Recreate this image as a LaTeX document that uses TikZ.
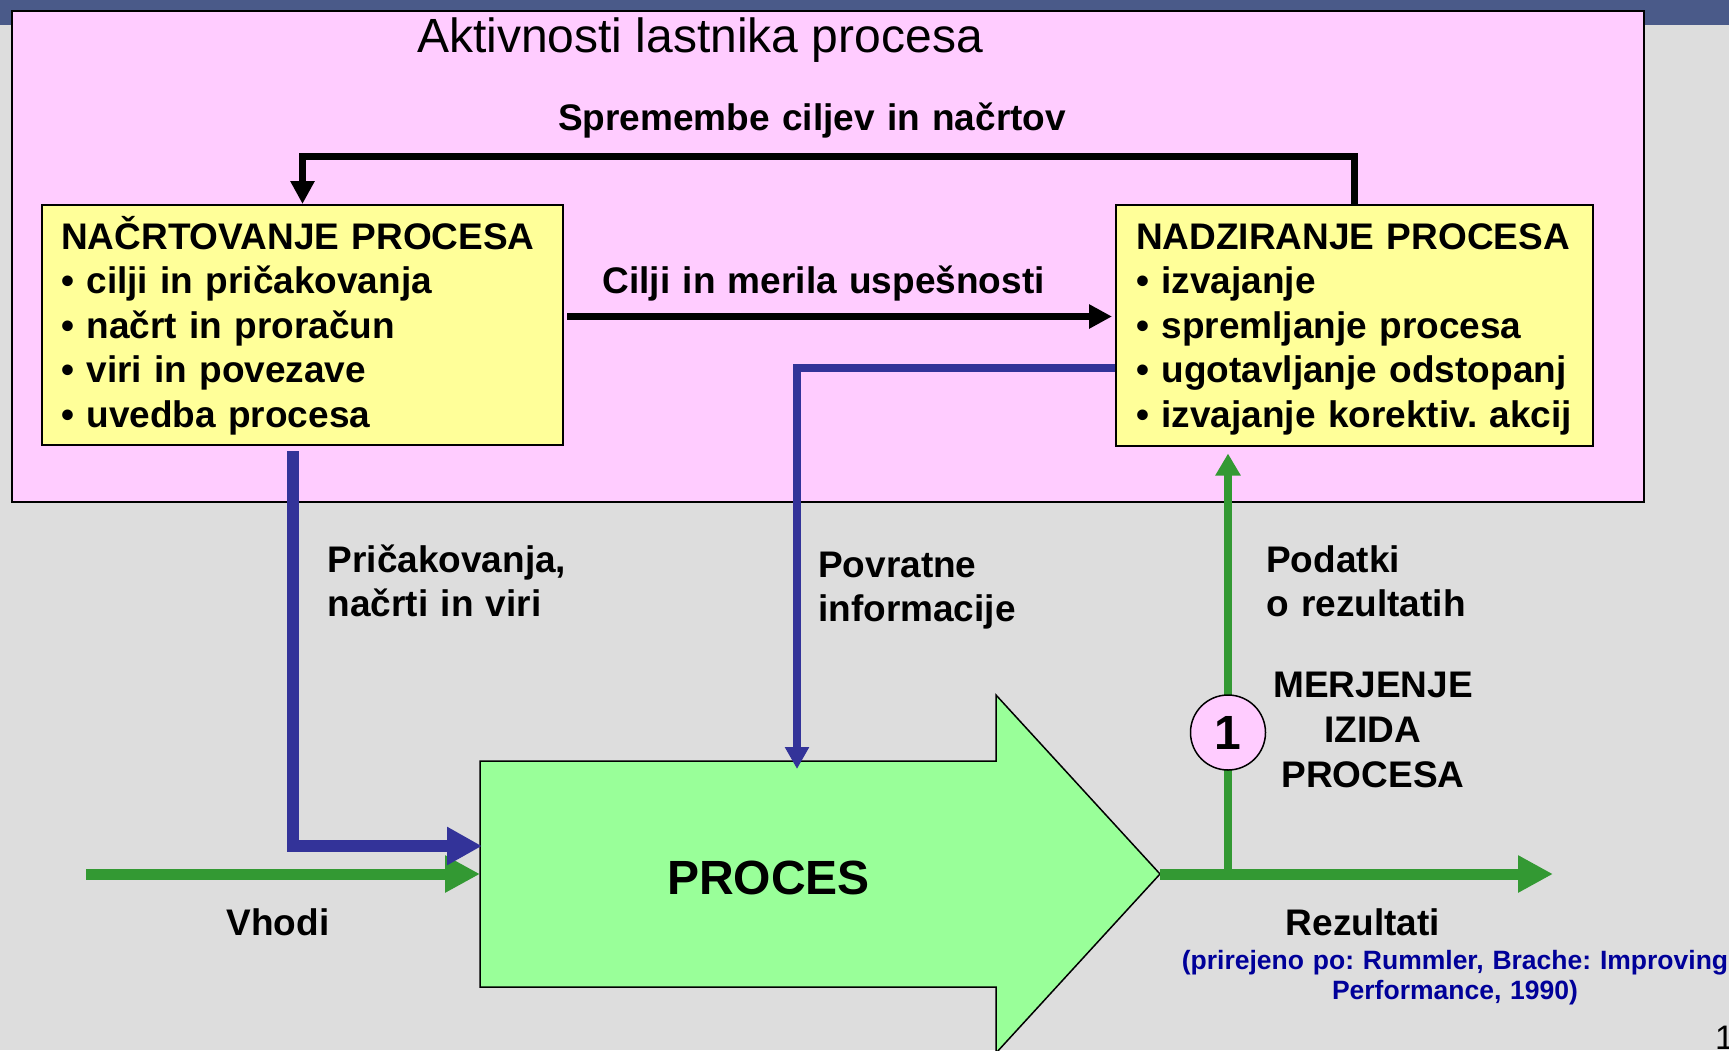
\documentclass[tikz,border=0pt]{standalone}
\usepackage{fontspec}
\setmainfont{Liberation Sans}
\usetikzlibrary{arrows.meta}
\frenchspacing

\definecolor{bgGrey}{HTML}{DDDDDD}
\definecolor{barBlue}{HTML}{4A5A89}
\definecolor{ownerPink}{HTML}{FFCCFF}
\definecolor{boxYellow}{HTML}{FFFF99}
\definecolor{procGreen}{HTML}{99FF99}
\definecolor{flowGreen}{HTML}{339933}
\definecolor{ctrlBlue}{HTML}{333399}
\definecolor{citeBlue}{HTML}{000099}

\begin{document}
\begin{tikzpicture}[x=1pt, y=-1pt,
  owner/.style={draw=black, line width=2pt, fill=ownerPink, anchor=north west,
    inner sep=0pt, minimum width=1632pt, minimum height=491pt},
  panel/.style={draw=black, line width=2pt, fill=boxYellow, anchor=north west, inner sep=0pt},
  boxtext/.style={font=\fontsize{37}{44.4}\selectfont\bfseries, align=left,
    text width=500pt, anchor=base west, inner sep=0pt},
  lbl/.style={font=\fontsize{37}{44.6}\selectfont\bfseries, align=left,
    text width=420pt, anchor=base west, inner sep=0pt},
  clbl/.style={font=\fontsize{37}{45}\selectfont\bfseries, align=center,
    text width=620pt, anchor=base, inner sep=0pt},
  citeText/.style={font=\fontsize{26.5}{30}\selectfont\bfseries, text=citeBlue,
    align=center, text width=620pt, anchor=base, inner sep=0pt},
  blackflow/.style={draw=black, line width=7pt, -{Triangle[length=23pt,width=23pt]}},
  blueflow/.style={draw=ctrlBlue, line width=12pt, -{Triangle[length=35pt,width=36pt]}},
  bluethin/.style={draw=ctrlBlue, line width=8pt, -{Triangle[length=22pt,width=23pt]}},
  greenflow/.style={draw=flowGreen, line width=11pt, -{Triangle[length=35pt,width=35pt]}},
  greenthin/.style={draw=flowGreen, line width=8pt, -{Triangle[length=22pt,width=24pt]}},
  procshape/.style={draw=black, line width=1.5pt, fill=procGreen, line join=miter}
]
% page and title bar
\fill[bgGrey] (0,0) rectangle (1729,1050);
\useasboundingbox (0,0) rectangle (1729,1050);
\fill[barBlue] (0,0) rectangle (1729,25);

% area of the process owner
\node[owner] (owner) at (11,10) {};
\node[font=\fontsize{48}{48}\selectfont, anchor=base west, inner sep=0pt] (title)
  at (417,52) {Aktivnosti lastnika procesa};

% planning and monitoring panels
\node[panel, minimum width=521pt, minimum height=240pt] (plan) at (41,204) {};
\node[panel, minimum width=477pt, minimum height=241pt] (monitor) at (1115,204) {};
\node[boxtext] (planText) at (61,249.5)
  {NAČRTOVANJE PROCESA\\• cilji in pričakovanja\\• načrt in proračun\\• viri in povezave\\• uvedba procesa};
\node[boxtext] (monText) at (1136,249.5)
  {NADZIRANJE PROCESA\\• izvajanje\\• spremljanje procesa\\• ugotavljanje odstopanj\\• izvajanje korektiv. akcij};

% the process itself
\coordinate (procW) at (480,874);
\coordinate (procTip) at (1160,874);
\draw[procshape] (480,761) -- (996,761) -- (996,695) -- (procTip) -- (996,1053)
  -- (996,987) -- (480,987) -- cycle;
\node[font=\fontsize{48}{48}\selectfont\bfseries, anchor=base, inner sep=0pt] (procLabel)
  at (768.5,894) {PROCES};

% feedback loop between the panels
\draw[blackflow] (monitor.north) -- ++(0,-48) -| (plan.north);
\coordinate (goalY) at (0,316.5);
\draw[blackflow, shorten <=3pt, shorten >=3pt] (plan.east |- goalY) -- (monitor.west |- goalY);
\node[clbl] (changeLbl) at (812,130) {Spremembe ciljev in načrtov};
\node[clbl] (goalLbl) at (823.6,293) {Cilji in merila uspešnosti};

% inputs and outputs
\coordinate (inStart) at (86,874);
\coordinate (outEnd) at (1553,874);
\coordinate (measureFoot) at (1228,874);
\draw[greenflow] (inStart) -- (procW);
\draw[greenflow] (procTip) -- (outEnd);
\draw[greenthin, shorten >=6.5pt] (measureFoot) -- (monitor.south -| measureFoot);
\node[circle, draw=black, line width=1.5pt, fill=ownerPink, minimum size=75pt, inner sep=0pt,
  font=\fontsize{48}{48}\selectfont\bfseries] (measure) at (1228,732.5) {1};

% plans and feedback into the process
\coordinate (planOut) at (293,451);
\coordinate (planTurn) at (293,846);
\coordinate (procIn) at (482,846);
\draw[blueflow] (planOut) -- (planTurn) -- (procIn);
\coordinate (infoTurn) at (797,368);
\coordinate (infoEnd) at (797,769);
\draw[bluethin] (monitor.west |- infoTurn) -- (infoTurn) -- (infoEnd);

% labels
\node[lbl] (expectLbl) at (327.5,572) {Pričakovanja,\\načrti in viri};
\node[lbl] (infoLbl) at (818,577) {Povratne\\informacije};
\node[lbl] (dataLbl) at (1266,572) {Podatki\\o rezultatih};
\node[clbl] (measureLbl) at (1373,697) {MERJENJE\\IZIDA\\PROCESA};
\node[clbl] (inLbl) at (278,935) {Vhodi};
\node[clbl] (outLbl) at (1363,935.5) {Rezultati};
\node[citeText] (source) at (1455,969)
  {(prirejeno po: Rummler, Brache: Improving\\Performance, 1990)};
\node[font=\fontsize{34}{34}\selectfont, anchor=north west, inner sep=0pt] (pageNo)
  at (1715,1026) {1};
\end{tikzpicture}
\end{document}
